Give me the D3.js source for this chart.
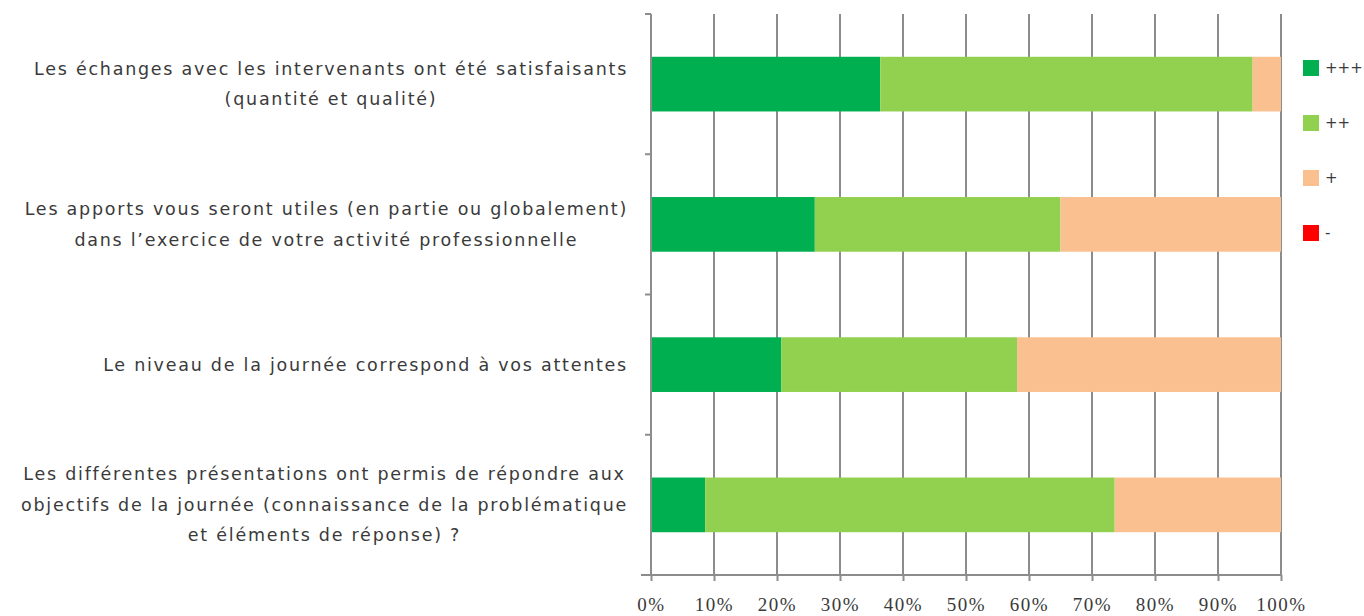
<!DOCTYPE html>
<html>
<head>
<meta charset="utf-8">
<script src="https://cdn.jsdelivr.net/npm/d3@7"></script>
<style>
  body { margin: 0; background: #fff; }
  text { font-family: "DejaVu Sans", sans-serif; fill: #3a3a3a; }
</style>
</head>
<body>
<div id="vis"></div>
<script>
// questions (one label per bar, split in lines)
var questions = [
    ['Les échanges avec les intervenants ont été satisfaisants', '(quantité et qualité)'],
    ['Les apports vous seront utiles (en partie ou globalement)', 'dans l\u2019exercice de votre activité professionnelle'],
    ['Le niveau de la journée correspond à vos attentes'],
    ['Les différentes présentations ont permis de répondre aux', 'objectifs de la journée (connaissance de la problématique', 'et éléments de réponse) ?']
];

var seriesNames = ['+++', '++', '+', '-'];
var seriesColors = ['#00b050', '#92d050', '#fac090', '#ff0000'];

// percentages per question
var tripleplus = [36.4, 26.0, 20.7, 8.6];
var doubleplus = [59.1, 39.0, 37.4, 65.0];
var plus = [4.5, 35.0, 41.9, 26.4];
var minus = [0, 0, 0, 0];

var xTicks = [0, 10, 20, 30, 40, 50, 60, 70, 80, 90, 100];

var margin = { left: 651, top: 14, right: 83, bottom: 41 };
var W = 1364, H = 616;
var width = W - margin.left - margin.right;
var height = H - margin.top - margin.bottom;

var svg = d3.select('#vis').append('svg')
    .attr('width', W)
    .attr('height', H);

var g = svg.append('g')
    .attr('transform', 'translate(' + margin.left + ',' + margin.top + ')');

var xScale = d3.scaleLinear().domain([0, 100]).range([0, width]);
var yScale = d3.scaleBand()
    .domain(d3.range(questions.length))
    .range([0, height])
    .paddingInner(0.61)
    .paddingOuter(0.305);

/* ****** gridlines ****** */
g.selectAll('.grid')
    .data(xTicks.slice(1))
    .enter().append('line')
    .attr('class', 'grid')
    .attr('x1', function (d) { return xScale(d); })
    .attr('x2', function (d) { return xScale(d); })
    .attr('y1', 0)
    .attr('y2', height)
    .attr('stroke', '#8c8c8c')
    .attr('stroke-width', 2);

/* ****** stacked bars ****** */
var rows = questions.map(function (q, i) {
    return { i: i, '+++': tripleplus[i], '++': doubleplus[i], '+': plus[i], '-': minus[i] };
});
var stack = d3.stack().keys(seriesNames)(rows);

g.selectAll('.serie')
    .data(stack)
    .enter().append('g')
    .attr('fill', function (d, k) { return seriesColors[k]; })
    .selectAll('rect')
    .data(function (d) { return d; })
    .enter().append('rect')
    .attr('x', function (d) { return xScale(d[0]); })
    .attr('width', function (d) { return xScale(d[1]) - xScale(d[0]); })
    .attr('y', function (d) { return yScale(d.data.i); })
    .attr('height', yScale.bandwidth());

/* ****** axes ****** */
var xAxis = d3.axisBottom(xScale)
    .tickValues(xTicks)
    .tickSize(6)
    .tickPadding(17)
    .tickFormat(function (d) { return d + '%'; });

var xAxisG = g.append('g')
    .attr('transform', 'translate(0,' + height + ')')
    .call(xAxis);
xAxisG.select('.domain').remove();
xAxisG.append('line')
    .attr('x1', -10).attr('x2', width)
    .attr('stroke', '#8c8c8c').attr('stroke-width', 2);
xAxisG.selectAll('.tick line').attr('stroke', '#8c8c8c').attr('stroke-width', 2);
xAxisG.selectAll('.tick text')
    .style('font-family', '"Liberation Serif", serif')
    .style('font-size', '19px')
    .style('letter-spacing', '1.5px')
    .attr('fill', '#3a3a3a');

// y axis: line with ticks at band limits
var yBounds = d3.range(questions.length + 1).map(function (k) { return k * yScale.step(); });
g.append('line')
    .attr('x1', 0).attr('x2', 0)
    .attr('y1', 0).attr('y2', height)
    .attr('stroke', '#8c8c8c').attr('stroke-width', 2);
g.selectAll('.ytick')
    .data(yBounds)
    .enter().append('line')
    .attr('x1', -6).attr('x2', 0)
    .attr('y1', function (d) { return d; })
    .attr('y2', function (d) { return d; })
    .attr('stroke', '#8c8c8c').attr('stroke-width', 2);

/* ****** category labels ****** */
var lineH = 30.5;
questions.forEach(function (lines, i) {
    var cy = margin.top + yScale(i) + yScale.bandwidth() / 2;
    var t = svg.append('text')
        .attr('text-anchor', 'middle')
        .style('font-size', '17.5px')
        .style('letter-spacing', '1.75px');
    lines.forEach(function (l, j) {
        t.append('tspan')
            .attr('dy', j === 0 ? 0 : lineH)
            .text(l);
    });
    // widest line ends at the right edge, lines centred within the block
    var maxW = 0;
    t.selectAll('tspan').each(function () {
        maxW = Math.max(maxW, this.getComputedTextLength());
    });
    var cx = 628 - maxW / 2;
    t.selectAll('tspan').attr('x', cx);
    t.attr('y', cy - (lines.length - 1) * lineH / 2 + 6);
});

/* ****** legend ****** */
var legend = svg.selectAll('.legend')
    .data(seriesNames)
    .enter().append('g')
    .attr('transform', function (d, k) { return 'translate(1303,' + (60 + k * 55) + ')'; });
legend.append('rect')
    .attr('width', 16).attr('height', 16)
    .attr('fill', function (d, k) { return seriesColors[k]; });
legend.append('text')
    .attr('x', 22).attr('y', 13)
    .style('font-size', '15px')
    .attr('fill', '#222')
    .text(function (d) { return d; });
</script>
</body>
</html>
